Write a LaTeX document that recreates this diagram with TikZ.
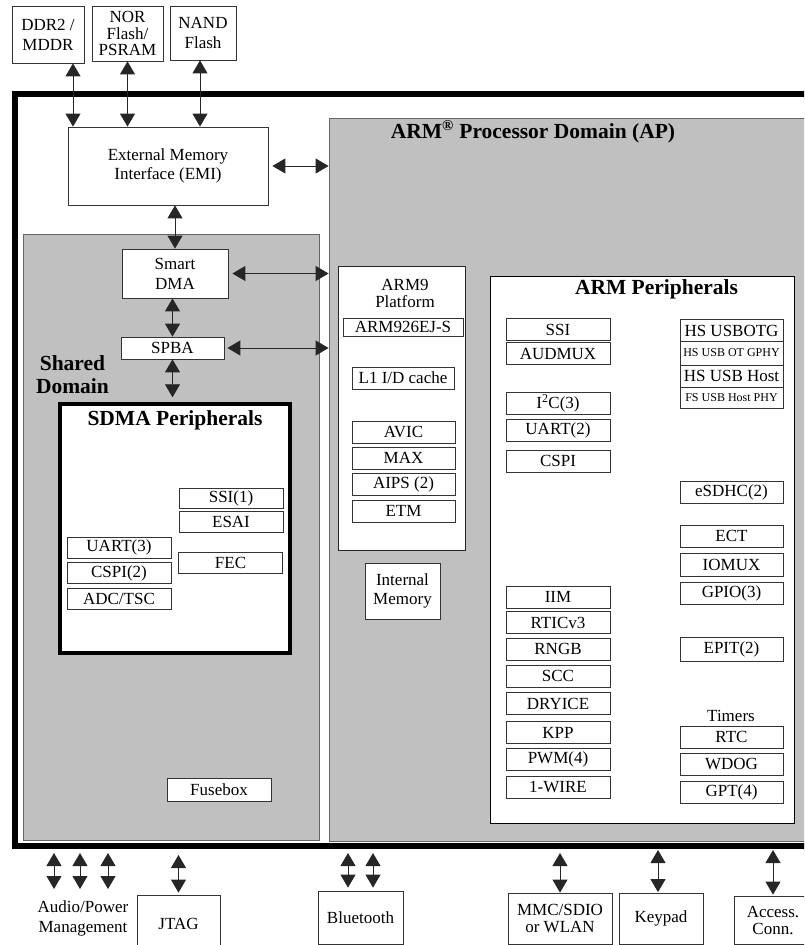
\documentclass[tikz,border=0pt]{standalone}
\usepackage{fontspec}
\setmainfont{Liberation Serif}
\usetikzlibrary{arrows.meta,positioning,calc}
\definecolor{domaingray}{RGB}{192,192,192}

\begin{document}
\begin{tikzpicture}[
  x=1pt, y=-1pt,
  chipframe/.style={rectangle, draw, line width=6pt, inner sep=0pt},
  domainbox/.style={rectangle, draw=black!60, fill=domaingray, line width=0.8pt, inner sep=0pt},
  groupbox/.style={rectangle, draw=black!85, fill=white, line width=0.8pt, inner sep=0pt},
  box/.style={rectangle, draw=black!80, fill=white, line width=0.8pt, inner sep=0pt, minimum width=104pt, minimum height=22pt, align=center, font=\fontsize{17}{19}\selectfont},
  tinybox/.style={box, font=\fontsize{12}{13}\selectfont},
  titletext/.style={font=\fontsize{21.5}{23}\selectfont\bfseries, align=center, inner sep=0pt},
  plaintext/.style={font=\fontsize{17}{20}\selectfont, align=center, inner sep=0pt},
  biarrow/.style={{Triangle[length=13pt,width=15pt]}-{Triangle[length=13pt,width=15pt]}, line width=0.9pt, draw=black!85}
]
\useasboundingbox (0,0) rectangle (804,945);
\clip (0,0) rectangle (804,945);

%% Off-chip memories
\node[box, minimum width=72pt, minimum height=57pt, font=\fontsize{17}{20}\selectfont] (ddr) at (48,34.5) {DDR2 /\\MDDR};
\node[box, minimum width=71pt, minimum height=55pt, font=\fontsize{17}{16.5}\selectfont] (nor) at (127.5,33.5) {NOR\\Flash/\\PSRAM};
\node[box, minimum width=66pt, minimum height=54pt, font=\fontsize{17}{20}\selectfont] (nand) at (203,33) {NAND\\Flash};

%% Chip and domains
\node[chipframe, minimum width=815pt, minimum height=752pt] (chip) at (422.5,470) {};
\node[domainbox, minimum width=501pt, minimum height=723pt] (ap) at (579.5,479.5) {};
\node[titletext] (aptitle) at (533,132) {ARM\textsuperscript{\textregistered} Processor Domain (AP)};
\node[domainbox, minimum width=296pt, minimum height=606pt] (shared) at (171,537) {};
\node[titletext] (sharedtitle) at (72.5,375) {Shared\\Domain};

%% EMI, Smart DMA, SPBA
\node[box, minimum width=200pt, minimum height=78pt] (emi) at (168,166) {External Memory\\Interface (EMI)};
\node[box, minimum width=106pt, minimum height=49pt, font=\fontsize{17}{20}\selectfont] (sdma) at (175,273.5) {Smart\\DMA};
\node[box, minimum width=103pt] (spba) at (172.5,348) {SPBA};

%% SDMA peripherals
\node[groupbox, draw=black, line width=3.5pt, minimum width=230pt, minimum height=249pt] (sdmaperiph) at (175,528.5) {};
\node[titletext] (sdmatitle) at (175,420) {SDMA Peripherals};
\node[box, minimum height=20pt] (ssione) at (231,498) {SSI(1)};
\node[box, minimum height=21pt, below=3pt of ssione] (esai) {ESAI};
\node[box, minimum height=21pt] (fec) at (230.5,562.5) {FEC};
\node[box, minimum height=21pt] (uartthree) at (119,547.5) {UART(3)};
\node[box, minimum height=21pt, below=4pt of uartthree] (cspitwo) {CSPI(2)};
\node[box, minimum height=21pt, below=4pt of cspitwo] (adc) {ADC/TSC};
\node[box, minimum height=23pt] (fusebox) at (219,789.5) {Fusebox};

%% ARM9 platform
\node[groupbox, minimum width=127pt, minimum height=284pt] (arm9) at (401.5,408) {};
\node[plaintext, font=\fontsize{17}{17}\selectfont] (arm9title) at (405,293.5) {ARM9\\Platform};
\node[box, minimum width=120pt, minimum height=18pt] (arm926) at (403,327) {ARM926EJ-S};
\node[box, minimum width=102pt] (lonecache) at (403,378) {L1 I/D cache};
\node[box, minimum width=103pt] (avic) at (403.5,432) {AVIC};
\node[box, minimum width=103pt, below=3.5pt of avic] (max) {MAX};
\node[box, minimum width=103pt, below=3.5pt of max] (aips) {AIPS (2)};
\node[box, minimum width=103pt, below=3.5pt of aips] (etm) {ETM};
\node[box, minimum width=75pt, minimum height=56pt] (intmem) at (402.5,591) {Internal\\Memory};

%% ARM peripherals
\node[groupbox, draw=black, minimum width=304pt, minimum height=547pt] (armperiph) at (642,549.5) {};
\node[titletext] (armtitle) at (656.5,289.5) {ARM Peripherals};
\node[box] (ssi) at (558,329.5) {SSI};
\node[box] (audmux) at (558,353.5) {AUDMUX};
\node[box] (itwoc) at (558,403) {I\textsuperscript{2}C(3)};
\node[box] (uarttwo) at (558,430.5) {UART(2)};
\node[box] (cspi) at (558,461) {CSPI};
\node[box] (iim) at (558,597) {IIM};
\node[box] (rtic) at (558,622.5) {RTICv3};
\node[box] (rngb) at (558,649) {RNGB};
\node[box] (scc) at (558,676) {SCC};
\node[box] (dryice) at (558,703.5) {DRYICE};
\node[box] (kpp) at (558,732.5) {KPP};
\node[box] (pwm) at (558,759) {PWM(4)};
\node[box] (onewire) at (558,787.5) {1-WIRE};
\node[box, minimum width=103pt] (usbotg) at (731.5,330.5) {HS USBOTG};
\node[tinybox, minimum width=103pt, minimum height=24pt] (usbotgphy) at (731.5,353) {HS USB OT GPHY};
\node[box, minimum width=103pt] (usbhost) at (731.5,376) {HS USB Host};
\node[tinybox, minimum width=103pt, minimum height=21pt] (usbhostphy) at (731.5,397.5) {FS USB Host PHY};
\node[box, minimum width=103pt] (esdhc) at (731.5,492.5) {eSDHC(2)};
\node[box, minimum width=103pt] (ect) at (731.5,536) {ECT};
\node[box, minimum width=103pt, minimum height=23pt] (iomux) at (731.5,564.5) {IOMUX};
\node[box, minimum width=103pt] (gpio) at (731.5,593) {GPIO(3)};
\node[box, minimum width=103pt, minimum height=24pt] (epit) at (731.5,649) {EPIT(2)};
\node[plaintext] (timers) at (731,716) {Timers};
\node[box, minimum width=103pt] (rtc) at (731.5,737) {RTC};
\node[box, minimum width=103pt] (wdog) at (731.5,764) {WDOG};
\node[box, minimum width=103pt] (gpt) at (731.5,792) {GPT(4)};

%% Off-chip devices
\node[plaintext] (audio) at (83,918) {Audio/Power\\Management};
\node[box, minimum width=83pt, minimum height=58pt] (jtag) at (178.5,924) {JTAG};
\node[box, minimum width=85pt, minimum height=53pt] (bt) at (360.5,917.5) {Bluetooth};
\node[box, minimum width=104pt, minimum height=51pt, font=\fontsize{17}{17}\selectfont] (mmc) at (560,918.5) {MMC/SDIO\\or WLAN};
\node[box, minimum width=84pt, minimum height=51pt] (keypad) at (661,918.5) {Keypad};
\node[box, minimum width=78pt, minimum height=48pt, font=\fontsize{17}{17}\selectfont] (access) at (773,920) {Access.\\Conn.};

%% Free arrow ends
\coordinate (ddrpin) at ($(ddr.south)+(25,0)$);
\coordinate (apmone) at (54,889);
\coordinate (apmtwo) at (80,889);
\coordinate (apmthree) at (108,889);
\coordinate (btleft) at ($(bt.north)+(-12.5,0)$);
\coordinate (btright) at ($(bt.north)+(12.5,0)$);

%% Arrows memory side
\draw[biarrow] (ddrpin) -- (ddrpin |- emi.north);
\draw[biarrow] (nor.south) -- (nor.south |- emi.north);
\draw[biarrow] ([xshift=-3pt]nand.south) -- ([xshift=-3pt]nand.south |- emi.north);
\draw[biarrow, shorten <=4pt] (emi.east) -- (emi.east -| ap.west);
\draw[biarrow] (sdma.north |- emi.south) -- (sdma.north);
\draw[biarrow, shorten <=4pt] (sdma.east) -- (sdma.east -| ap.west);
\draw[biarrow] (spba.north) -- (spba.north |- sdma.south);
\draw[biarrow, shorten <=3pt] (spba.east) -- (spba.east -| ap.west);
\draw[biarrow, shorten >=5pt] (spba.south) -- (spba.south |- sdmaperiph.north);

%% Arrows to the outside
\draw[biarrow, shorten <=4pt] (apmone |- chip.south) -- (apmone);
\draw[biarrow, shorten <=4pt] (apmtwo |- chip.south) -- (apmtwo);
\draw[biarrow, shorten <=4pt] (apmthree |- chip.south) -- (apmthree);
\draw[biarrow, shorten <=6pt, shorten >=2pt] (jtag.north |- chip.south) -- (jtag.north);
\draw[biarrow, shorten <=4pt, shorten >=3pt] (btleft |- chip.south) -- (btleft);
\draw[biarrow, shorten <=4pt, shorten >=3pt] (btright |- chip.south) -- (btright);
\draw[biarrow, shorten <=4pt] (mmc.north |- chip.south) -- (mmc.north);
\draw[biarrow, shorten <=1pt, shorten >=0.5pt] ([xshift=-3pt]keypad.north |- chip.south) -- ([xshift=-3pt]keypad.north);
\draw[biarrow, shorten <=1pt, shorten >=1pt] (access.north |- chip.south) -- (access.north);
\end{tikzpicture}
\end{document}
